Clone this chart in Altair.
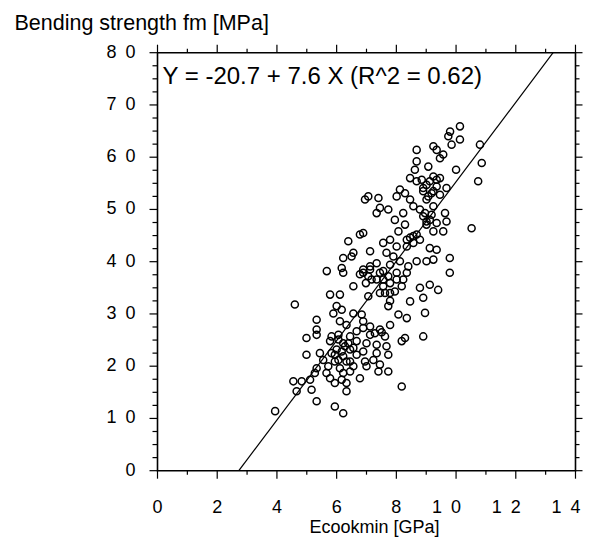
import altair as alt
import pandas as pd

# --- data ---
E_gpa = [
    10.13, 9.80, 9.74, 10.13, 9.85, 10.80, 8.68, 9.24, 9.35, 9.57, 9.46, 8.68, 10.86, 10.00, 9.07, 8.62,
    10.74, 8.46, 9.24, 9.46, 8.68, 9.01, 9.35, 8.12, 9.68, 8.90, 9.18, 9.46, 7.06, 7.40, 8.01, 8.29,
    8.46, 9.01, 6.95, 7.45, 7.73, 8.57, 8.79, 9.24, 8.23, 9.63, 8.90, 9.12, 7.34, 7.95, 9.35, 9.68,
    9.01, 8.29, 10.52, 9.24, 9.57, 8.68, 8.07, 6.89, 6.78, 8.46, 8.79, 7.79, 6.39, 8.57, 8.35, 7.56,
    8.01, 9.12, 9.35, 6.56, 7.12, 7.67, 7.90, 6.22, 6.50, 9.01, 9.24, 9.79, 8.68, 7.34, 7.79, 8.12,
    6.17, 5.67, 6.89, 7.12, 6.22, 7.56, 8.35, 8.40, 9.79, 6.78, 7.06, 7.73, 7.34, 8.01, 6.56, 6.98,
    7.56, 8.18, 8.79, 9.12, 9.40, 7.45, 7.79, 5.78, 6.11, 7.06, 8.90, 7.79, 6.00, 4.60, 8.46, 7.73,
    5.89, 6.17, 6.56, 6.84, 8.07, 8.96, 8.35, 5.33, 6.11, 6.33, 6.89, 7.12, 7.79, 7.45, 5.33, 6.67,
    4.99, 5.33, 5.83, 6.06, 6.45, 7.12, 7.51, 8.29, 8.18, 8.90, 5.78, 6.22, 6.67, 7.00, 7.34, 7.67,
    6.00, 6.45, 6.89, 4.99, 5.44, 5.83, 6.22, 6.67, 7.34, 7.73, 5.55, 5.94, 6.45, 6.95, 7.23, 5.33,
    5.72, 6.11, 6.56, 7.00, 7.45, 5.27, 5.66, 6.22, 6.45, 7.40, 7.73, 5.78, 6.17, 6.78, 4.55, 4.83,
    5.11, 5.94, 6.33, 8.18, 5.16, 4.66, 6.33, 5.33, 5.94, 6.22, 3.94,
    6.06, 6.28, 5.94, 6.39, 6.17, 6.06, 6.56, 6.33,
    6.89, 7.17, 7.56, 7.79, 7.62, 7.95, 7.45, 7.12,
    8.85, 9.12, 9.35, 8.90, 9.24, 9.07, 8.96, 9.18, 9.01, 8.35, 8.57,
    6.89, 7.28, 7.62, 8.01, 8.23,
]
fm_mpa = [
    65.9, 64.9, 64.0, 63.4, 62.4, 62.4, 61.4, 62.1, 61.4, 60.5, 59.8, 59.2, 58.9, 57.6, 58.2, 57.6,
    55.4, 56.0, 56.3, 56.0, 55.4, 54.7, 54.4, 53.8, 54.1, 53.5, 53.1, 52.8, 52.5, 52.2, 52.5, 53.1,
    51.9, 51.9, 51.9, 50.3, 50.0, 50.6, 50.0, 50.6, 49.3, 49.3, 48.7, 48.0, 49.3, 48.0, 47.4, 47.7,
    47.1, 47.1, 46.4, 45.8, 45.8, 45.2, 45.8, 45.5, 45.2, 44.6, 44.2, 44.2, 43.9, 43.6, 42.9, 43.6,
    42.9, 42.6, 42.3, 41.7, 42.0, 41.7, 41.0, 40.7, 41.0, 40.1, 40.4, 40.7, 40.1, 39.7, 39.4, 40.1,
    38.8, 38.2, 38.5, 38.5, 37.9, 38.2, 37.9, 39.1, 37.9, 37.6, 37.2, 37.2, 36.6, 36.6, 35.3, 35.9,
    35.3, 35.3, 35.0, 35.6, 34.6, 34.0, 34.0, 33.7, 33.7, 33.4, 33.1, 32.5, 31.5, 31.8, 32.4, 31.5,
    30.1, 30.8, 30.1, 29.9, 29.9, 30.2, 29.2, 28.9, 28.6, 27.9, 28.6, 27.6, 27.9, 27.0, 27.0, 26.7,
    25.4, 26.0, 25.7, 26.0, 25.7, 26.0, 26.5, 25.4, 24.8, 25.7, 24.8, 24.4, 24.8, 24.4, 24.1, 23.8,
    23.2, 23.2, 22.8, 22.2, 22.5, 22.5, 21.9, 22.2, 22.5, 22.2, 21.2, 20.9, 20.9, 20.9, 21.2, 19.6,
    20.0, 19.6, 20.0, 20.0, 20.3, 18.7, 18.7, 18.7, 19.0, 19.0, 19.0, 17.7, 17.4, 17.7, 17.1, 17.1,
    17.4, 16.8, 16.8, 16.1, 15.5, 15.2, 15.2, 13.3, 12.3, 11.0, 11.4,
    25.1, 23.8, 22.2, 24.4, 22.8, 21.2, 23.5, 20.9,
    37.9, 36.6, 36.6, 35.9, 34.0, 34.3, 37.9, 39.1,
    55.7, 55.4, 55.7, 54.1, 53.5, 52.5, 49.3, 49.0, 47.7, 44.2, 44.9,
    27.3, 26.3, 25.7, 37.9, 36.6,
]

INTERCEPT = -20.7
SLOPE = 7.6
X_DOMAIN = [0, 14]
Y_DOMAIN = [0, 80]
x_major = [0, 2, 4, 6, 8, 10, 12, 14]
x_major_labels = ["0", "2", "4", "6", "8", "1\u20020", "1\u20022", "1\u20024"]
x_minor = [1, 3, 5, 7, 9, 11, 13]
y_major = [0, 10, 20, 30, 40, 50, 60, 70, 80]
y_major_labels = ["0", "1\u20020", "2\u20020", "3\u20020", "4\u20020",
                  "5\u20020", "6\u20020", "7\u20020", "8\u20020"]
y_minor = [v for v in [i * 2.5 for i in range(33)] if v % 10 != 0]
x_title = ["Ecookmin [GPa]"]
y_title = ["Bending strength fm [MPa]"]
annotation = ["Y = -20.7 + 7.6 X (R^2 = 0.62)"]

df = pd.DataFrame({"E": E_gpa, "fm": fm_mpa})
line_x = [(Y_DOMAIN[0] - INTERCEPT) / SLOPE, (Y_DOMAIN[1] - INTERCEPT) / SLOPE]
line_df = pd.DataFrame({"E": line_x, "fm": [INTERCEPT + SLOPE * v for v in line_x]})

W = H = 418
FONT = "Liberation Sans"

xscale = alt.Scale(domain=X_DOMAIN, nice=False, zero=False)
yscale = alt.Scale(domain=Y_DOMAIN, nice=False, zero=False)

points = alt.Chart(df).mark_point(shape="circle", filled=False, color="black",
                                  strokeWidth=1.5, size=50, opacity=1).encode(
    x=alt.X("E:Q", scale=xscale, axis=None),
    y=alt.Y("fm:Q", scale=yscale, axis=None),
)

reg = alt.Chart(line_df).mark_line(color="black", strokeWidth=1.2).encode(
    x=alt.X("E:Q", scale=xscale, axis=None),
    y=alt.Y("fm:Q", scale=yscale, axis=None),
)


def xticks(values, y0, y1):
    return alt.Chart(pd.DataFrame({"v": values})).mark_rule(
        color="black", strokeWidth=1.2).encode(
        x=alt.X("v:Q", scale=xscale, axis=None),
        y=alt.value(y0), y2=alt.value(y1))


def yticks(values, x0, x1):
    return alt.Chart(pd.DataFrame({"v": values})).mark_rule(
        color="black", strokeWidth=1.2).encode(
        y=alt.Y("v:Q", scale=yscale, axis=None),
        x=alt.value(x0), x2=alt.value(x1))


tick_layers = [
    xticks(x_major, H, H + 8),      # bottom major
    xticks(x_minor, H, H + 4),      # bottom minor
    xticks(x_major, 0, -8),         # top major
    xticks(x_minor, 0, -4),         # top minor
    yticks(y_major, 0, -8),         # left major
    yticks(y_minor, 0, -5),         # left minor
    yticks(y_major, W, W + 7),      # right major
    yticks(y_minor, W, W + 4),      # right minor
]

x_labels = alt.Chart(pd.DataFrame({"v": x_major, "lab": x_major_labels})).mark_text(
    font=FONT, fontSize=18, color="black", align="right", baseline="top", dx=5).encode(
    x=alt.X("v:Q", scale=xscale, axis=None),
    y=alt.value(H + 28), text="lab:N")

y_labels = alt.Chart(pd.DataFrame({"v": y_major, "lab": y_major_labels})).mark_text(
    font=FONT, fontSize=18, color="black", align="right", baseline="middle").encode(
    y=alt.Y("v:Q", scale=yscale, axis=None),
    x=alt.value(-22), text="lab:N")

x_title_layer = alt.Chart(pd.DataFrame({"t": x_title})).mark_text(
    font=FONT, fontSize=18, color="black", align="center", baseline="alphabetic").encode(
    x=alt.value(217), y=alt.value(H + 62), text="t:N")

y_title_layer = alt.Chart(pd.DataFrame({"t": y_title})).mark_text(
    font=FONT, fontSize=21.5, color="black", align="left", baseline="alphabetic").encode(
    x=alt.value(-143), y=alt.value(-23), text="t:N")

text = alt.Chart(pd.DataFrame({"t": annotation})).mark_text(
    align="left", baseline="alphabetic", font=FONT, fontSize=24, color="black").encode(
    x=alt.value(5), y=alt.value(31), text="t:N")

chart = alt.layer(points, reg, *tick_layers, x_labels, y_labels,
                  x_title_layer, y_title_layer, text).properties(
    width=W, height=H,
    autosize=alt.AutoSizeParams(type="none"),
    padding={"left": 157.5, "top": 52.7, "right": 22.5, "bottom": 78},
    background="white",
).configure_view(stroke="black", strokeWidth=1.6)

chart.save("out.html", embed_options={"renderer": "svg", "actions": False})
